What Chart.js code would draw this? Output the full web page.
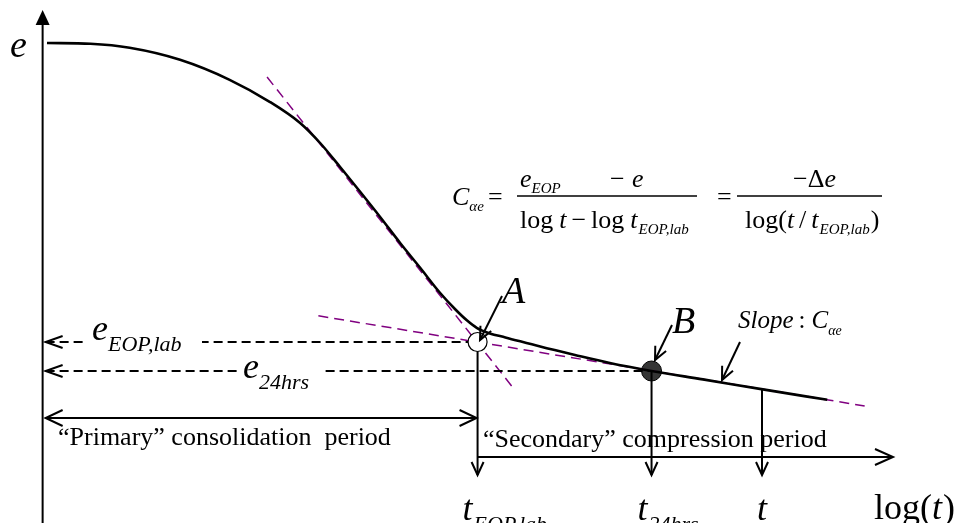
<!DOCTYPE html>
<html>
<head>
<meta charset="utf-8">
<style>
  html, body { margin: 0; padding: 0; background: #fff; }
  canvas { display: block; }
</style>
<script src="https://cdn.jsdelivr.net/npm/chart.js@4.4.0/dist/chart.umd.min.js"></script>
</head>
<body>
<canvas id="chart" width="956" height="523"></canvas>
<script>
// Void ratio e against log(t) for an oedometer consolidation stage
const logT = [0.05, 0.55, 1.0, 1.58, 2.15, 2.61, 2.96, 3.19, 3.42, 3.65, 3.88, 4.11, 4.34,
              4.57, 4.74, 4.88, 4.99, 5.14, 5.32, 5.72, 6.12, 6.52, 7.0, 7.59, 8.28, 9.02];
const voidRatio = [1.2, 1.198, 1.188, 1.158, 1.108, 1.053, 1.0, 0.95, 0.89, 0.828, 0.765, 0.70, 0.638,
                   0.575, 0.535, 0.506, 0.488, 0.474, 0.464, 0.441, 0.42, 0.40, 0.38, 0.359, 0.334, 0.308];

// Casagrande construction: tangent to the steep (primary) part and to the secondary part
const primaryTangentLogT = [2.58, 5.41];
const primaryTangentE = [1.115, 0.3375];
const secondaryTangentLogT = [3.17, 9.45];
const secondaryTangentE = [0.518, 0.2925];

// Marked times: end of primary (A), 24 hours (B), arbitrary time t
const markerLogT = [5.0, 7.0, 8.27];
const markerE = [0.4525, 0.38, 0.334];
const markerNames = [['t', 'EOP,lab'], ['t', '24hrs'], ['t', '']];
const levelNames = [['e', 'EOP,lab'], ['e', '24hrs']];

const SERIF = "'Liberation Serif', 'Times New Roman', serif";
const PURPLE = '#800080';
const R_A = 9.5;

function setFont(ctx, size, italic) {
  ctx.font = (italic ? 'italic ' : '') + size + 'px ' + SERIF;
}
function txt(ctx, s, x, y, size, italic, align) {
  setFont(ctx, size, italic);
  ctx.textAlign = align || 'left';
  ctx.textBaseline = 'alphabetic';
  ctx.fillText(s, x, y);
  return x + ctx.measureText(s).width;
}
// runs: [text, size, italic, dy, gapBefore]
function runs(ctx, x, y, list) {
  let cx = x;
  for (const r of list) {
    cx += r[4] || 0;
    cx = txt(ctx, r[0], cx, y + (r[3] || 0), r[1], r[2]);
  }
  return cx;
}
function seg(ctx, x1, y1, x2, y2) {
  ctx.beginPath(); ctx.moveTo(x1, y1); ctx.lineTo(x2, y2); ctx.stroke();
}
function chevron(ctx, tx, ty, dx, dy, len, half) {
  const bx = tx - dx * len, by = ty - dy * len;
  const nx = -dy, ny = dx;
  ctx.beginPath();
  ctx.moveTo(bx + nx * half, by + ny * half);
  ctx.lineTo(tx, ty);
  ctx.lineTo(bx - nx * half, by - ny * half);
  ctx.stroke();
}
function arrow(ctx, x1, y1, x2, y2, len, half) {
  seg(ctx, x1, y1, x2, y2);
  const L = Math.hypot(x2 - x1, y2 - y1);
  chevron(ctx, x2, y2, (x2 - x1) / L, (y2 - y1) / L, len, half);
}

const annotations = {
  id: 'annotations',
  afterDatasetsDraw(chart) {
    const ctx = chart.ctx;
    const sx = chart.scales.x, sy = chart.scales.y;
    const px = v => sx.getPixelForValue(v);
    const py = v => sy.getPixelForValue(v);
    const axisX = px(0);
    const bottomTip = 475;

    ctx.save();
    ctx.strokeStyle = '#000';
    ctx.fillStyle = '#000';
    ctx.lineCap = 'butt';
    ctx.lineJoin = 'miter';

    // vertical e axis with filled arrow head
    ctx.lineWidth = 2;
    seg(ctx, axisX, 523, axisX, 22);
    ctx.beginPath();
    ctx.moveTo(axisX, 10);
    ctx.lineTo(axisX - 7, 25);
    ctx.lineTo(axisX + 7, 25);
    ctx.closePath();
    ctx.fill();
    txt(ctx, 'e', 10, 57, 38, true);

    // dashed void-ratio levels back to the axis
    ctx.lineWidth = 2;
    ctx.setLineDash([9, 5]);
    const levelEnd = [px(markerLogT[0]) - R_A, px(markerLogT[1])];
    for (let i = 0; i < 2; i++) {
      seg(ctx, axisX + 3, py(markerE[i]), levelEnd[i], py(markerE[i]));
    }
    ctx.setLineDash([]);
    for (let i = 0; i < 2; i++) {
      chevron(ctx, axisX + 3, py(markerE[i]), -1, 0, 17, 6);
    }
    // level labels on a white patch
    const labelX = [92, 243], labelDy = [-2, 7], patch = [[87, 202], [237, 322]];
    for (let i = 0; i < 2; i++) {
      const y = py(markerE[i]);
      ctx.fillStyle = '#fff';
      ctx.fillRect(patch[i][0], y - 6, patch[i][1] - patch[i][0], 12);
      ctx.fillStyle = '#000';
      runs(ctx, labelX[i], y + labelDy[i], [
        [levelNames[i][0], 36, true, 0],
        [levelNames[i][1], 22, true, 11]
      ]);
    }

    // drop lines from the marked points to the time labels
    ctx.lineWidth = 2;
    const dropTop = [py(markerE[0]) + R_A, py(markerE[1]), py(markerE[2])];
    for (let i = 0; i < 3; i++) {
      const x = px(markerLogT[i]);
      seg(ctx, x, dropTop[i], x, bottomTip);
      chevron(ctx, x, bottomTip, 0, 1, 13, 6);
    }

    // consolidation periods
    const xA = px(markerLogT[0]);
    ctx.lineWidth = 2;
    seg(ctx, axisX + 3, 418, xA - 1, 418);
    chevron(ctx, axisX + 3, 418, -1, 0, 17, 8);
    chevron(ctx, xA - 1, 418, 1, 0, 17, 8);
    seg(ctx, xA, 457, 893, 457);
    chevron(ctx, 893, 457, 1, 0, 18, 8);
    txt(ctx, '\u201CPrimary\u201D consolidation  period', 58, 445, 26, false);
    txt(ctx, '\u201CSecondary\u201D compression period', 483, 447, 26, false);

    // time labels
    const tOffset = [-15, -14, 0];
    for (let i = 0; i < 3; i++) {
      const x = px(markerLogT[i]);
      if (markerNames[i][1]) {
        runs(ctx, x + tOffset[i], 520, [
          [markerNames[i][0], 36, true, 0],
          [markerNames[i][1], 22, true, 11, 1]
        ]);
      } else {
        txt(ctx, markerNames[i][0], x, 520, 36, true, 'center');
      }
    }
    runs(ctx, 874, 519, [['log(', 36, false], ['t', 36, true], [')', 36, false, 0, 1]]);

    // point labels with pointers
    ctx.lineWidth = 2;
    arrow(ctx, 502, 296, 480, 340, 13, 6);
    txt(ctx, 'A', 502, 303, 38, true);
    arrow(ctx, 672, 325, 655, 360, 13, 6);
    txt(ctx, 'B', 672, 333, 38, true);
    arrow(ctx, 740, 342, 722, 380, 13, 6);
    runs(ctx, 738, 328, [
      ['Slope', 25, true, 0],
      [':', 25, false, 0, 5],
      ['C', 25, true, 0, 6],
      ['\u03B1e', 14, true, 7, 0]
    ]);

    // definition of the secondary compression index
    ctx.lineWidth = 1.3;
    runs(ctx, 452, 205, [['C', 26, true, 0], ['\u03B1e', 15, true, 6]]);
    txt(ctx, '=', 488, 205, 26, false);
    seg(ctx, 517, 196, 697, 196);
    runs(ctx, 520, 187, [['e', 26, true, 0], ['EOP', 15, true, 6]]);
    txt(ctx, '\u2212', 610, 187, 26, false);
    txt(ctx, 'e', 632, 187, 26, true);
    runs(ctx, 520, 228, [
      ['log', 26, false, 0],
      ['t', 26, true, 0, 6],
      ['\u2212', 26, false, 0, 5],
      ['log', 26, false, 0, 5],
      ['t', 26, true, 0, 6],
      ['EOP,lab', 15, true, 6, 1]
    ]);
    txt(ctx, '=', 717, 205, 26, false);
    seg(ctx, 737, 196, 882, 196);
    runs(ctx, 793, 187, [['\u2212', 26, false, 0], ['\u0394', 26, false, 0], ['e', 26, true, 0]]);
    runs(ctx, 745, 228, [
      ['log(', 26, false, 0],
      ['t', 26, true, 0],
      ['/', 26, false, 0, 5],
      ['t', 26, true, 0, 5],
      ['EOP,lab', 15, true, 6, 1],
      [')', 26, false, 0, 1]
    ]);

    ctx.restore();
  }
};

const toPoints = (xs, ys) => xs.map((v, i) => ({ x: v, y: ys[i] }));

new Chart(document.getElementById('chart'), {
  type: 'scatter',
  data: {
    datasets: [
      {
        label: 'A',
        data: [{ x: markerLogT[0], y: markerE[0] }],
        pointRadius: R_A,
        pointBackgroundColor: '#fff',
        pointBorderColor: '#000',
        pointBorderWidth: 1.2,
        showLine: false,
        order: 0
      },
      {
        label: 'e - log(t)',
        data: toPoints(logT, voidRatio),
        showLine: true,
        borderColor: '#000',
        borderWidth: 2.6,
        pointRadius: 0,
        cubicInterpolationMode: 'monotone',
        order: 1
      },
      {
        label: 'primary tangent',
        data: toPoints(primaryTangentLogT, primaryTangentE),
        showLine: true,
        borderColor: PURPLE,
        borderWidth: 1.5,
        borderDash: [10, 6],
        pointRadius: 0,
        order: 2
      },
      {
        label: 'secondary tangent',
        data: toPoints(secondaryTangentLogT, secondaryTangentE),
        showLine: true,
        borderColor: PURPLE,
        borderWidth: 1.5,
        borderDash: [10, 6],
        pointRadius: 0,
        order: 3
      },
      {
        label: 'B',
        data: [{ x: markerLogT[1], y: markerE[1] }],
        pointRadius: 10,
        pointBackgroundColor: '#353535',
        pointBorderColor: '#000',
        pointBorderWidth: 1,
        showLine: false,
        order: 9
      }
    ]
  },
  options: {
    responsive: false,
    devicePixelRatio: 1,
    animation: false,
    layout: { padding: 0, autoPadding: false },
    scales: {
      x: { type: 'linear', min: -0.49, max: 10.5, display: false },
      y: { type: 'linear', min: 0, max: 1.3075, display: false }
    },
    plugins: {
      legend: { display: false },
      tooltip: { enabled: false }
    }
  },
  plugins: [annotations]
});
</script>
</body>
</html>
